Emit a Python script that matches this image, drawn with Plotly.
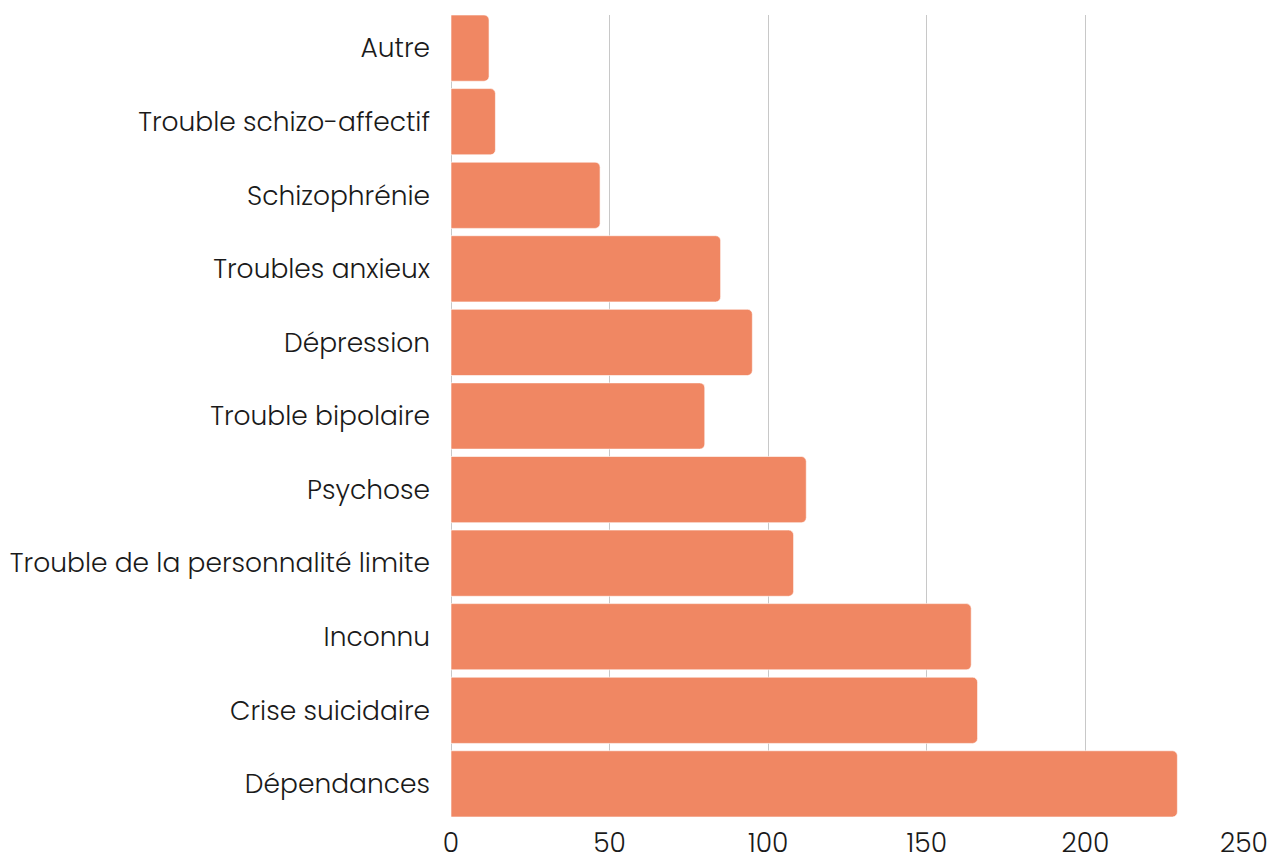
import plotly.graph_objects as go

categories = [
    "Dépendances",
    "Crise suicidaire",
    "Inconnu",
    "Trouble de la personnalité limite",
    "Psychose",
    "Trouble bipolaire",
    "Dépression",
    "Troubles anxieux",
    "Schizophrénie",
    "Trouble schizo-affectif",
    "Autre",
]
values = [229, 166, 164, 108, 112, 80, 95, 85, 47, 14, 12]
x_ticks = [0, 50, 100, 150, 200, 250]

bar_color = "#F08763"
grid_color = "#C8C8C8"
font_family = "Poppins, Inter, Lato, sans-serif"
bar_gap = 0.1

fig = go.Figure(
    go.Bar(
        x=values,
        y=categories,
        orientation="h",
        marker=dict(color=bar_color, line=dict(color="white", width=0.6), cornerradius=5),
        hoverinfo="x+y",
    )
)

fig.update_layout(
    width=1269,
    height=856,
    margin=dict(l=451, r=25, t=15, b=39, autoexpand=False),
    paper_bgcolor="white",
    plot_bgcolor="white",
    bargap=bar_gap,
    showlegend=False,
    font=dict(family=font_family, size=26.5, color="#1a1a1a", weight=300),
)
fig.update_xaxes(
    range=[0, 250],
    tickvals=x_ticks,
    showgrid=True,
    gridcolor=grid_color,
    gridwidth=1,
    zeroline=True,
    zerolinecolor=grid_color,
    zerolinewidth=1,
    showline=False,
    ticks="",
    automargin=False,
    ticklabelstandoff=7,
    tickfont=dict(size=26.5, weight=300),
)
fig.update_yaxes(
    range=[-0.5 + bar_gap / 2, len(categories) - 0.5 - bar_gap / 2],
    showgrid=False,
    showline=False,
    ticks="",
    automargin=False,
    ticklabelstandoff=20,
    tickfont=dict(size=26.5, weight=300),
)

fig.write_html(
    "out.html",
    config={"displayModeBar": False},
    post_script="document.body.style.margin='0px';document.body.style.overflow='hidden';",
)
